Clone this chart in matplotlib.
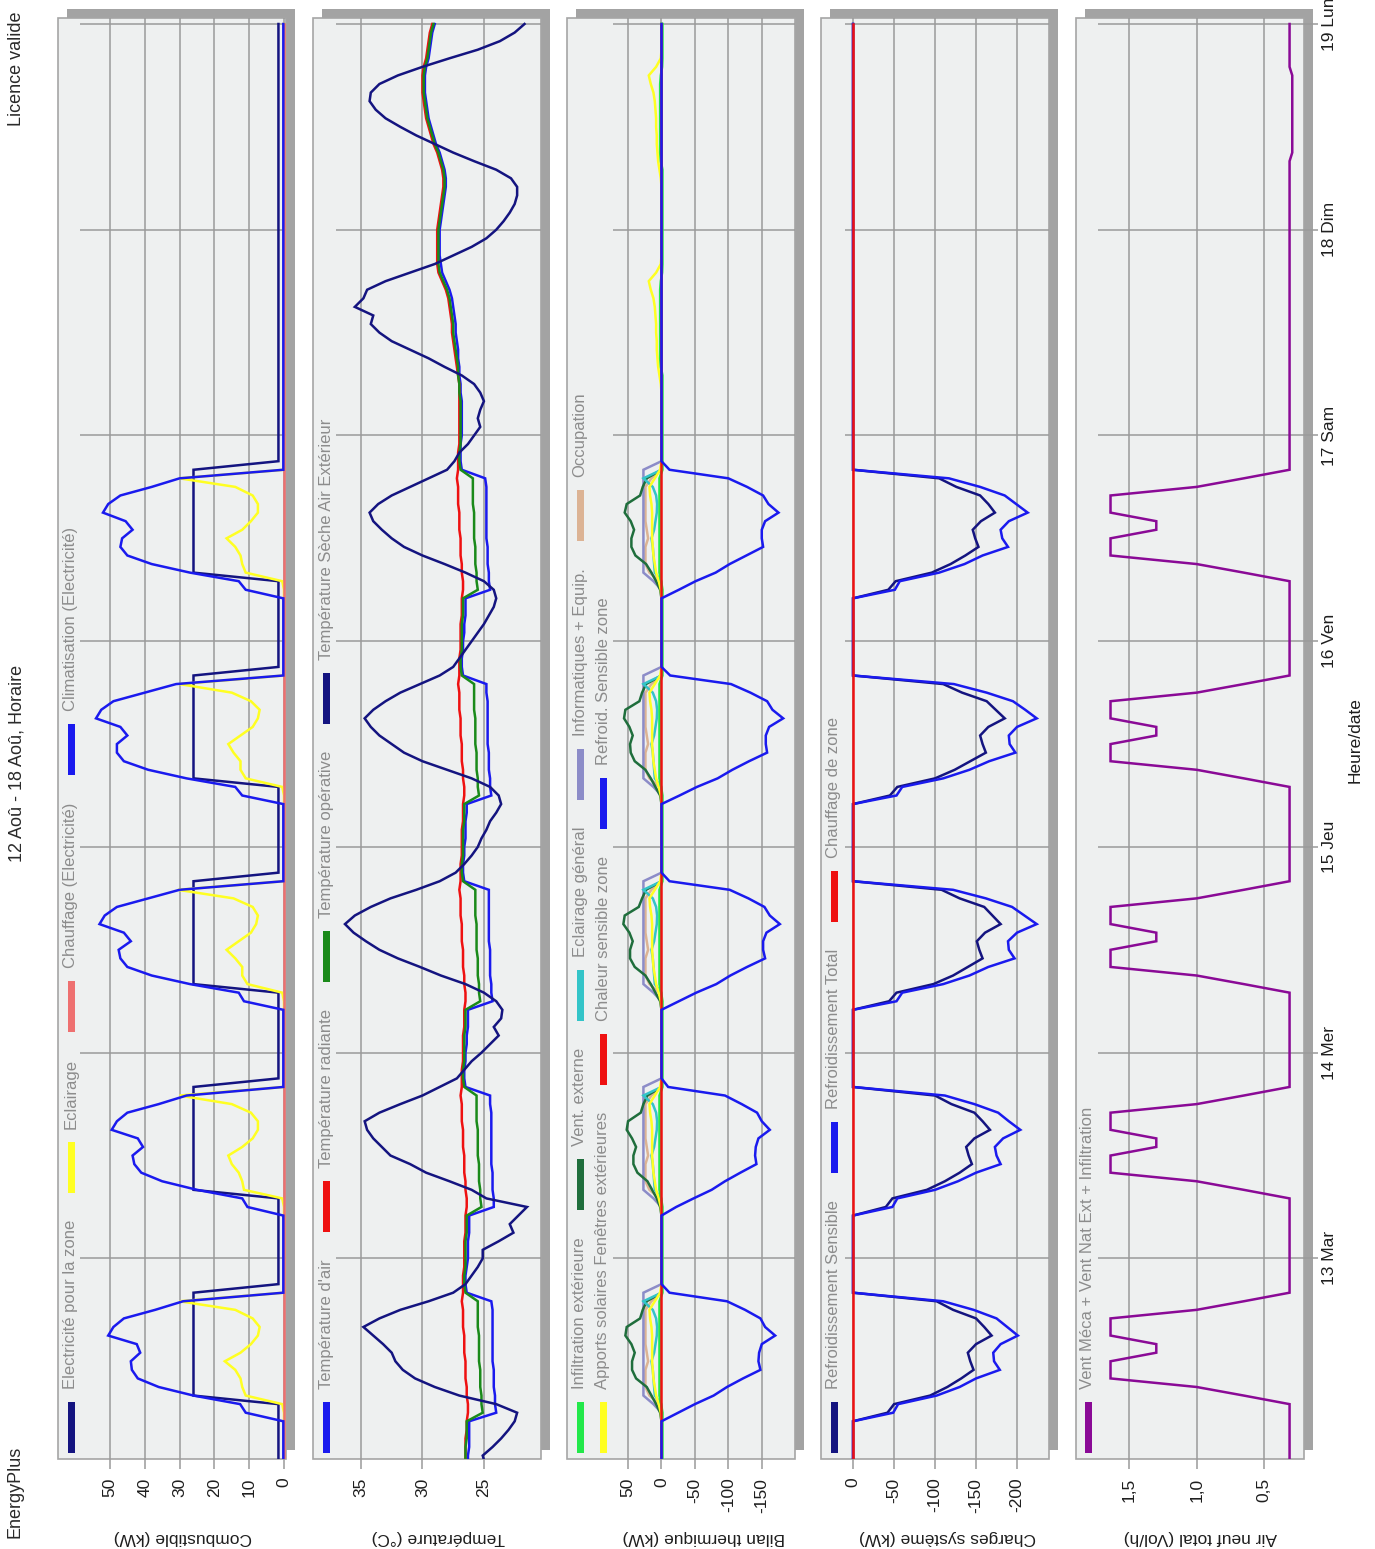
import numpy as np
import matplotlib
matplotlib.use("Agg")
import matplotlib.pyplot as plt
from matplotlib.patches import Rectangle

plt.rcParams['font.family'] = ['Liberation Sans', 'DejaVu Sans']

# ---------------- data (hourly, 12 Aug 00h .. 19 Aug 00h) ----------------
hours = np.arange(169)
day_ticks = [24, 48, 72, 96, 120, 144, 168]
day_labels = ["13 Mar", "14 Mer", "15 Jeu", "16 Ven", "17 Sam", "18 Dim", "19 Lun"]

# Panel 1 : Combustible (kW)
elec_zone = [
 1.6,1.6,1.6,1.6,1.6,1.6,1.6,1.6,26,26,26,26,26,26,26,26,26,26,26,26,26,1.6,1.6,1.6,
 1.6,1.6,1.6,1.6,1.6,1.6,1.6,1.6,26,26,26,26,26,26,26,26,26,26,26,26,26,1.6,1.6,1.6,
 1.6,1.6,1.6,1.6,1.6,1.6,1.6,1.6,26,26,26,26,26,26,26,26,26,26,26,26,26,1.6,1.6,1.6,
 1.6,1.6,1.6,1.6,1.6,1.6,1.6,1.6,26,26,26,26,26,26,26,26,26,26,26,26,26,1.6,1.6,1.6,
 1.6,1.6,1.6,1.6,1.6,1.6,1.6,1.6,26,26,26,26,26,26,26,26,26,26,26,26,26,1.6,1.6,1.6,
 1.6,1.6,1.6,1.6,1.6,1.6,1.6,1.6,1.6,1.6,1.6,1.6,1.6,1.6,1.6,1.6,1.6,1.6,1.6,1.6,1.6,1.6,1.6,1.6,
 1.6,1.6,1.6,1.6,1.6,1.6,1.6,1.6,1.6,1.6,1.6,1.6,1.6,1.6,1.6,1.6,1.6,1.6,1.6,1.6,1.6,1.6,1.6,1.6,
 1.6]
eclairage = [
 0,0,0,0,0,0,0,0.5,11,12,12.5,14,17,12.5,9.5,7.5,7,9,14,30,0,0,0,0,
 0,0,0,0,0,0,0,0.5,11.5,12,13,15,16,12,9,7.5,7.5,9.5,15,30,0,0,0,0,
 0,0,0,0,0,0,0,0.5,10.5,12,12,14,16.5,13,9.5,8,7.5,9,14.5,30.5,0,0,0,0,
 0,0,0,0,0,0,0,0.5,11,12.5,12.5,14.5,16,12.5,9,7.5,7,9.5,15,30,0,0,0,0,
 0,0,0,0,0,0,0,0.5,11,12,12.5,14,16.5,12,9.5,7.5,7.5,9,14,30,0,0,0,0,
 0,0,0,0,0,0,0,0,0,0,0,0,0,0,0,0,0,0,0,0,0,0,0,0,
 0,0,0,0,0,0,0,0,0,0,0,0,0,0,0,0,0,0,0,0,0,0,0,0,
 0]
chauffage_elec = [0.0] * 169
climatisation = [
 0.2,0.2,0.2,0.2,0.2,0.2,11,12.6,26,36,42,43.7,44,41.3,42.3,50.5,49,46,37,29,0.2,0.2,0.2,0.2,
 0.2,0.2,0.2,0.2,0.2,0.2,10.5,12,25,35,41,43,43.5,40.5,42,49.5,48,45,36,28,0.2,0.2,0.2,0.2,
 0.2,0.2,0.2,0.2,0.2,0.2,11.5,13,27,38,45,47,47.5,44,46,53,51.5,48,39,30,0.2,0.2,0.2,0.2,
 0.2,0.2,0.2,0.2,0.2,0.2,12,14,28,39,46,48,48,45,47,54,52.5,49,40,31,0.2,0.2,0.2,0.2,
 0.2,0.2,0.2,0.2,0.2,0.2,11,13,27,38,45,47,46.5,43.5,45.5,52,50.5,47,38,30,0.2,0.2,0.2,0.2,
 0.2,0.2,0.2,0.2,0.2,0.2,0.2,0.2,0.2,0.2,0.2,0.2,0.2,0.2,0.2,0.2,0.2,0.2,0.2,0.2,0.2,0.2,0.2,0.2,
 0.2,0.2,0.2,0.2,0.2,0.2,0.2,0.2,0.2,0.2,0.2,0.2,0.2,0.2,0.2,0.2,0.2,0.2,0.2,0.2,0.2,0.2,0.2,0.2,
 0.2]

# Panel 2 : Température (°C)
t_air = [
 26.3,26.3,26.2,26.2,26.2,26.2,24.0,24.1,24.1,24.2,24.2,24.2,24.3,24.3,24.3,24.3,24.3,24.3,24.3,24.4,26.4,26.5,26.5,26.4,
 26.3,26.3,26.3,26.2,26.2,26.2,24.2,24.2,24.3,24.3,24.3,24.4,24.4,24.4,24.4,24.4,24.4,24.4,24.5,24.5,26.5,26.6,26.6,26.5,
 26.5,26.4,26.4,26.3,26.3,26.3,24.3,24.4,24.4,24.5,24.5,24.5,24.5,24.6,24.6,24.6,24.6,24.6,24.6,24.6,26.6,26.7,26.7,26.6,
 26.6,26.5,26.5,26.5,26.4,26.4,24.4,24.5,24.5,24.6,24.6,24.6,24.7,24.7,24.7,24.7,24.7,24.7,24.8,24.8,26.7,26.8,26.8,26.7,
 26.7,26.6,26.6,26.5,26.5,26.5,24.5,24.6,24.6,24.7,24.7,24.7,24.8,24.8,24.8,24.8,24.8,24.8,24.8,24.9,26.8,26.9,26.9,26.9,
 26.8,26.8,26.8,26.8,26.8,26.9,26.9,27.0,27.0,27.1,27.1,27.2,27.3,27.3,27.4,27.5,27.6,27.8,28.1,28.4,28.5,28.6,28.6,28.6,
 28.6,28.5,28.4,28.3,28.2,28.1,28.1,28.2,28.4,28.6,28.9,29.1,29.3,29.5,29.6,29.7,29.8,29.8,29.8,29.7,29.5,29.4,29.3,29.2,
 29.0]
t_rad = [
 26.5,26.5,26.5,26.5,26.4,26.4,26.3,26.3,26.4,26.4,26.5,26.5,26.5,26.6,26.6,26.6,26.7,26.7,26.7,26.8,26.7,26.7,26.7,26.6,
 26.6,26.6,26.6,26.5,26.5,26.5,26.4,26.4,26.5,26.5,26.6,26.6,26.6,26.7,26.7,26.7,26.8,26.8,26.8,26.9,26.8,26.8,26.8,26.7,
 26.7,26.7,26.7,26.6,26.6,26.6,26.5,26.5,26.6,26.6,26.7,26.7,26.7,26.8,26.8,26.8,26.9,26.9,26.9,27.0,26.9,26.9,26.9,26.8,
 26.8,26.8,26.8,26.7,26.7,26.7,26.6,26.6,26.7,26.7,26.8,26.8,26.8,26.9,26.9,26.9,27.0,27.0,27.0,27.1,27.0,27.0,27.0,26.9,
 26.9,26.9,26.9,26.8,26.8,26.8,26.7,26.7,26.8,26.8,26.9,26.9,26.9,27.0,27.0,27.0,27.1,27.1,27.1,27.2,27.1,27.1,27.1,27.0,
 27.0,27.0,27.0,27.0,27.0,27.0,27.0,27.1,27.2,27.3,27.4,27.5,27.6,27.6,27.7,27.8,27.9,28.1,28.4,28.7,28.8,28.8,28.8,28.8,
 28.8,28.7,28.6,28.5,28.4,28.3,28.3,28.4,28.6,28.8,29.1,29.3,29.5,29.7,29.8,29.9,30.0,30.0,30.0,29.9,29.7,29.6,29.5,29.4,
 29.2]
t_op = [
 26.5,26.5,26.5,26.4,26.4,26.4,25.1,25.2,25.2,25.3,25.3,25.3,25.4,25.4,25.4,25.4,25.5,25.5,25.5,25.5,26.5,26.6,26.6,26.5,
 26.5,26.5,26.5,26.4,26.4,26.4,25.2,25.3,25.3,25.4,25.4,25.4,25.5,25.5,25.5,25.5,25.6,25.6,25.6,25.6,26.6,26.7,26.7,26.6,
 26.6,26.6,26.6,26.5,26.5,26.5,25.3,25.4,25.4,25.5,25.5,25.5,25.6,25.6,25.6,25.6,25.7,25.7,25.7,25.7,26.7,26.8,26.8,26.7,
 26.7,26.7,26.7,26.6,26.6,26.6,25.4,25.5,25.5,25.6,25.6,25.6,25.7,25.7,25.7,25.7,25.8,25.8,25.8,25.8,26.8,26.9,26.9,26.8,
 26.8,26.8,26.8,26.7,26.7,26.7,25.5,25.6,25.6,25.7,25.7,25.7,25.8,25.8,25.8,25.8,25.9,25.9,25.9,25.9,26.9,27.0,27.0,26.9,
 26.9,26.9,26.9,26.9,26.9,27.0,27.0,27.1,27.1,27.2,27.3,27.4,27.5,27.5,27.6,27.7,27.8,28.0,28.3,28.6,28.7,28.7,28.7,28.7,
 28.7,28.6,28.5,28.4,28.3,28.2,28.2,28.3,28.5,28.7,29.0,29.2,29.4,29.6,29.7,29.8,29.9,29.9,29.9,29.8,29.6,29.5,29.4,29.3,
 29.1]
t_ext = [
 24.9,25.1,24.3,23.6,23.0,22.5,22.3,24.0,27.0,29.0,30.6,31.6,32.2,32.5,33.2,34.0,34.8,33.5,31.8,29.5,27.5,26.5,26.0,25.5,
 25.1,25.1,23.8,22.6,22.9,22.2,21.5,24.8,26.0,27.8,29.7,31.0,32.6,33.3,34.0,34.5,34.7,33.5,31.8,30.0,28.6,27.2,26.6,26.0,
 25.2,24.5,23.8,24.2,23.6,23.5,24.0,25.0,26.5,28.5,30.2,32.0,33.5,34.6,35.6,36.3,35.5,34.2,32.6,30.5,28.6,27.3,26.6,26.0,
 25.5,25.2,24.8,24.5,24.0,23.6,23.8,24.5,26.0,28.0,30.0,31.5,32.5,33.5,34.2,34.7,34.0,33.0,31.8,30.2,28.6,27.5,27.0,26.5,
 26.0,25.5,25.0,24.6,24.2,24.0,24.2,25.0,26.5,28.2,30.0,31.5,32.5,33.3,34.0,34.3,33.6,32.5,31.0,29.5,28.0,27.4,27.0,26.3,
 25.8,25.3,25.5,25.3,25.0,25.3,25.8,26.8,28.2,29.5,31.0,32.5,33.5,34.2,34.0,35.5,34.8,34.5,33.0,31.0,29.0,27.5,26.0,24.8,
 24.0,23.4,22.9,22.5,22.3,22.3,22.8,24.0,25.8,27.5,29.0,30.5,31.8,33.0,33.8,34.3,34.2,33.5,32.0,30.0,27.8,25.5,23.7,22.5,
 21.7]

# Panel 3 : Bilan thermique (kW)
infiltration = [
 -1.5,-1.5,-1.5,-1.5,-1.5,-1.5,-1.5,0.5,3,3,3,3,3,3,3,3,3,3,3,3,-1.5,-1.5,-1.5,-1.5,
 -1.5,-1.5,-1.5,-1.5,-1.5,-1.5,-1.5,0.5,3,3,3,3,3,3,3,3,3,3,3,3,-1.5,-1.5,-1.5,-1.5,
 -1.5,-1.5,-1.5,-1.5,-1.5,-1.5,-1.5,0.5,3,3,3,3,3,3,3,3,3,3,3,3,-1.5,-1.5,-1.5,-1.5,
 -1.5,-1.5,-1.5,-1.5,-1.5,-1.5,-1.5,0.5,3,3,3,3,3,3,3,3,3,3,3,3,-1.5,-1.5,-1.5,-1.5,
 -1.5,-1.5,-1.5,-1.5,-1.5,-1.5,-1.5,0.5,3,3,3,3,3,3,3,3,3,3,3,3,-1.5,-1.5,-1.5,-1.5,
 -1.5,-1.5,-1.5,-1.5,-1.5,-1.5,-1.5,-1.5,1,2,2,2,2,2,2,2,2,2,1,-1,-1.5,-1.5,-1.5,-1.5,
 -1.5,-1.5,-1.5,-1.5,-1.5,-1.5,-1.5,-1.5,1,2,2,2,2,2,2,2,2,2,1,-1,-1.5,-1.5,-1.5,-1.5,
 -1.5]
solaires = [
 0,0,0,0,0,0,1,4,8,10,12,13,14,14,14,14,15,17,18,10,2,0,0,0,
 0,0,0,0,0,0,1,4,8,10,12,13,14,14,14,14,15,17,18,10,2,0,0,0,
 0,0,0,0,0,0,1,4,8,10,12,13,14,14,14,14,15,17,18,10,2,0,0,0,
 0,0,0,0,0,0,1,4,8,10,12,13,14,14,14,14,15,17,18,10,2,0,0,0,
 0,0,0,0,0,0,1,4,8,10,12,13,14,14,14,14,15,17,18,10,2,0,0,0,
 0,0,0,0,0,0,1,3,5,6,7,7,8,8,9,10,12,16,19,8,1,0,0,0,
 0,0,0,0,0,0,1,3,5,6,7,7,8,8,9,10,12,16,19,8,1,0,0,0,
 0]
vent_ext = [
 0,0,0,0,0,0,2,8,15,22,38,44,44,40,45,54,52,32,28,22,0,0,0,0,
 0,0,0,0,0,0,2,7,14,21,36,42,42,38,44,52,50,31,27,21,0,0,0,0,
 0,0,0,0,0,0,2,9,16,24,40,47,47,43,48,57,55,34,29,23,0,0,0,0,
 0,0,0,0,0,0,2,9,16,24,40,46,47,43,48,56,54,33,29,23,0,0,0,0,
 0,0,0,0,0,0,2,8,15,23,39,45,45,41,46,55,52,32,28,22,0,0,0,0,
 0,0,0,0,0,0,0,0,0,0,0,0,0,0,0,0,0,0,0,0,0,0,0,0,
 0,0,0,0,0,0,0,0,0,0,0,0,0,0,0,0,0,0,0,0,0,0,0,0,
 0]
chaleur_sens = [0.5] * 169
eclairage_gen = [
 0,0,0,0,0,0,0,0.5,10,11,12,13,15,11,9,7,6.5,8,13,27,0,0,0,0,
 0,0,0,0,0,0,0,0.5,10,11,12,13,15,11,9,7,6.5,8,13,27,0,0,0,0,
 0,0,0,0,0,0,0,0.5,10,11,12,13,15,11,9,7,6.5,8,13,27,0,0,0,0,
 0,0,0,0,0,0,0,0.5,10,11,12,13,15,11,9,7,6.5,8,13,27,0,0,0,0,
 0,0,0,0,0,0,0,0.5,10,11,12,13,15,11,9,7,6.5,8,13,27,0,0,0,0,
 0,0,0,0,0,0,0,0,0,0,0,0,0,0,0,0,0,0,0,0,0,0,0,0,
 0,0,0,0,0,0,0,0,0,0,0,0,0,0,0,0,0,0,0,0,0,0,0,0,
 0]
refroid_sens_zone = [
 0,0,0,0,0,0,-25,-50,-78,-98,-122,-148,-145,-146,-150,-170,-155,-148,-125,-98,-12,0,0,0,
 0,0,0,0,0,0,-22,-48,-75,-95,-118,-142,-140,-141,-145,-162,-150,-143,-120,-95,-10,0,0,0,
 0,0,0,0,0,0,-26,-52,-82,-103,-128,-155,-152,-152,-157,-177,-162,-154,-130,-102,-12,0,0,0,
 0,0,0,0,0,0,-27,-53,-84,-106,-131,-158,-156,-156,-161,-182,-166,-158,-133,-104,-13,0,0,0,
 0,0,0,0,0,0,-26,-51,-81,-102,-127,-152,-150,-150,-155,-175,-160,-152,-128,-100,-12,0,0,0,
 0,0,0,0,0,0,0,0,0,0,0,0,0,0,0,0,0,0,0,0,0,0,0,0,
 0,0,0,0,0,0,0,0,0,0,0,0,0,0,0,0,0,0,0,0,0,0,0,0,
 0]
informatique = [
 0,0,0,0,0,0,0,12,27,27,27,27,27,27,27,27,27,27,27,27,27,0,0,0,
 0,0,0,0,0,0,0,12,27,27,27,27,27,27,27,27,27,27,27,27,27,0,0,0,
 0,0,0,0,0,0,0,12,27,27,27,27,27,27,27,27,27,27,27,27,27,0,0,0,
 0,0,0,0,0,0,0,12,27,27,27,27,27,27,27,27,27,27,27,27,27,0,0,0,
 0,0,0,0,0,0,0,12,27,27,27,27,27,27,27,27,27,27,27,27,27,0,0,0,
 0,0,0,0,0,0,0,0,0,0,0,0,0,0,0,0,0,0,0,0,0,0,0,0,
 0,0,0,0,0,0,0,0,0,0,0,0,0,0,0,0,0,0,0,0,0,0,0,0,
 0]
occupation = [
 0,0,0,0,0,0,0,3,18,24,24,24,20,22,24,24,24,24,24,15,0,0,0,0,
 0,0,0,0,0,0,0,3,18,24,24,24,20,22,24,24,24,24,24,15,0,0,0,0,
 0,0,0,0,0,0,0,3,18,24,24,24,20,22,24,24,24,24,24,15,0,0,0,0,
 0,0,0,0,0,0,0,3,18,24,24,24,20,22,24,24,24,24,24,15,0,0,0,0,
 0,0,0,0,0,0,0,3,18,24,24,24,20,22,24,24,24,24,24,15,0,0,0,0,
 0,0,0,0,0,0,0,0,0,0,0,0,0,0,0,0,0,0,0,0,0,0,0,0,
 0,0,0,0,0,0,0,0,0,0,0,0,0,0,0,0,0,0,0,0,0,0,0,0,
 0]

# Panel 4 : Charges système (kW)
refroid_sensible = [
 0,0,0,0,0,0,-42,-50,-94,-115,-132,-147,-143,-140,-150,-169,-160,-150,-122,-102,0,0,0,0,
 0,0,0,0,0,0,-40,-48,-90,-112,-130,-145,-141,-138,-148,-167,-158,-148,-120,-100,0,0,0,0,
 0,0,0,0,0,0,-44,-53,-98,-122,-140,-158,-154,-151,-161,-180,-170,-160,-130,-108,0,0,0,0,
 0,0,0,0,0,0,-45,-54,-100,-124,-143,-162,-158,-155,-165,-185,-174,-163,-133,-110,0,0,0,0,
 0,0,0,0,0,0,-43,-52,-96,-119,-137,-153,-149,-146,-156,-173,-165,-155,-126,-105,0,0,0,0,
 0,0,0,0,0,0,0,0,0,0,0,0,0,0,0,0,0,0,0,0,0,0,0,0,
 0,0,0,0,0,0,0,0,0,0,0,0,0,0,0,0,0,0,0,0,0,0,0,0,
 0]
refroid_total = [
 0,0,0,0,0,0,-49,-55,-102,-130,-150,-179,-172,-171,-180,-201,-188,-175,-147,-110,0,0,0,0,
 0,0,0,0,0,0,-48,-54,-100,-128,-150,-180,-175,-173,-183,-204,-190,-177,-148,-112,0,0,0,0,
 0,0,0,0,0,0,-53,-60,-110,-142,-165,-197,-190,-189,-200,-224,-209,-194,-162,-122,0,0,0,0,
 0,0,0,0,0,0,-53,-60,-110,-142,-166,-198,-191,-190,-200,-224,-210,-195,-163,-123,0,0,0,0,
 0,0,0,0,0,0,-51,-57,-105,-136,-158,-189,-182,-180,-190,-213,-199,-185,-155,-117,0,0,0,0,
 0,0,0,0,0,0,0,0,0,0,0,0,0,0,0,0,0,0,0,0,0,0,0,0,
 0,0,0,0,0,0,0,0,0,0,0,0,0,0,0,0,0,0,0,0,0,0,0,0,
 0]
chauffage_zone = [0.0] * 169

# Panel 5 : Air neuf total (vol/h)
air_neuf = [
 0.31,0.31,0.31,0.31,0.31,0.31,0.31,0.31,0.65,1.0,1.64,1.64,1.64,1.30,1.30,1.64,1.64,1.64,1.0,0.65,0.31,0.31,0.31,0.31,
 0.31,0.31,0.31,0.31,0.31,0.31,0.31,0.31,0.65,1.0,1.64,1.64,1.64,1.30,1.30,1.64,1.64,1.64,1.0,0.65,0.31,0.31,0.31,0.31,
 0.31,0.31,0.31,0.31,0.31,0.31,0.31,0.31,0.65,1.0,1.64,1.64,1.64,1.30,1.30,1.64,1.64,1.64,1.0,0.65,0.31,0.31,0.31,0.31,
 0.31,0.31,0.31,0.31,0.31,0.31,0.31,0.31,0.65,1.0,1.64,1.64,1.64,1.30,1.30,1.64,1.64,1.64,1.0,0.65,0.31,0.31,0.31,0.31,
 0.31,0.31,0.31,0.31,0.31,0.31,0.31,0.31,0.65,1.0,1.64,1.64,1.64,1.30,1.30,1.64,1.64,1.64,1.0,0.65,0.31,0.31,0.31,0.31,
 0.31,0.31,0.31,0.31,0.31,0.31,0.31,0.31,0.31,0.31,0.31,0.31,0.31,0.31,0.31,0.31,0.31,0.31,0.31,0.31,0.31,0.31,0.31,0.31,
 0.31,0.31,0.31,0.31,0.31,0.31,0.31,0.31,0.31,0.29,0.29,0.29,0.29,0.29,0.29,0.29,0.29,0.29,0.29,0.31,0.31,0.31,0.31,0.31,
 0.31]

# ---------------- styling ----------------
NAVY = '#141480'
BLUE = '#1a1aee'
YELLOW = '#ffff22'
SALMON = '#ee7070'
RED = '#ee1111'
GREEN = '#1a8a1a'
DKGREEN = '#1f6e3c'
LTGREEN = '#22e84a'
CYAN = '#33c4c8'
LAVENDER = '#8c8cc8'
TAN = '#dcb394'
PURPLE = '#8a0a96'
FRAME_BG = '#eef0f0'
FRAME_EDGE = '#a5a5a5'
SHADOW = '#a3a3a3'
GRID = '#9a9a9a'
LEG_TXT = '#8c8c8c'

W, H = 1375, 1549
fig = plt.figure(figsize=(W / 100, H / 100), dpi=100)
fig.patch.set_facecolor('white')


def fx(px):
    return px / W


def fy(py):
    return 1 - py / H


FRAME_TOP, FRAME_BOT = 18, 1459
FRAME_W = 228

panels = [
    dict(fl=58, pl=80, xlim=(58.6, -0.57), ticks=[0, 10, 20, 30, 40, 50],
         labels=['0', '10', '20', '30', '40', '50'], ylabel='Combustible (kW)',
         series=[(elec_zone, NAVY), (eclairage, YELLOW), (chauffage_elec, SALMON), (climatisation, BLUE)],
         legend=[(71, [('Electricité pour la zone', NAVY), ('Eclairage', YELLOW),
                       ('Chauffage (Electricité)', SALMON), ('Climatisation (Electricité)', BLUE)])]),
    dict(fl=312.5, pl=336, xlim=(37.03, 20.4), ticks=[25, 30, 35],
         labels=['25', '30', '35'], ylabel='Température (°C)',
         series=[(t_air, BLUE), (t_rad, RED), (t_op, GREEN), (t_ext, NAVY)],
         legend=[(326, [("Température d'air", BLUE), ('Température radiante', RED),
                        ('Température opérative', GREEN), ('Température Sèche Air Extérieur', NAVY)])]),
    dict(fl=567, pl=613, xlim=(72.5, -199.7), ticks=[50, 0, -50, -100, -150],
         labels=['50', '0', '-50', '-100', '-150'], ylabel='Bilan thermique (kW)',
         series=[(occupation, TAN), (informatique, LAVENDER), (vent_ext, DKGREEN), (eclairage_gen, CYAN),
                 (solaires, YELLOW), (infiltration, LTGREEN), (chaleur_sens, RED), (refroid_sens_zone, BLUE)],
         legend=[(580, [('Infiltration extérieure', LTGREEN), ('Vent. externe', DKGREEN),
                        ('Eclairage général', CYAN), ('Informatiques + Equip.', LAVENDER), ('Occupation', TAN)]),
                 (603, [('Apports solaires Fenêtres extérieures', YELLOW), ('Chaleur sensible zone', RED),
                        ('Refroid. Sensible zone', BLUE)])]),
    dict(fl=821, pl=845, xlim=(9.8, -239), ticks=[0, -50, -100, -150, -200],
         labels=['0', '-50', '-100', '-150', '-200'], ylabel='Charges système (kW)',
         series=[(refroid_sensible, NAVY), (refroid_total, BLUE), (chauffage_zone, RED)],
         legend=[(834, [('Refroidissement Sensible', NAVY), ('Refroidissement Total', BLUE),
                        ('Chauffage de zone', RED)])]),
    dict(fl=1075.5, pl=1098, xlim=(1.733, 0.2065), ticks=[0.5, 1.0, 1.5],
         labels=['0,5', '1,0', '1,5'], ylabel='Air neuf total (Vol/h)',
         series=[(air_neuf, PURPLE)],
         legend=[(1088, [('Vent Méca + Vent Nat Ext + Infiltration', PURPLE)])]),
]

renderer = fig.canvas.get_renderer()

for i, p in enumerate(panels):
    fl = p['fl']
    fr = fl + FRAME_W
    # shadow and frame
    fig.add_artist(Rectangle((fx(fl + 9), fy(FRAME_BOT - 9)), FRAME_W / W, (FRAME_BOT - FRAME_TOP) / H,
                             transform=fig.transFigure, facecolor=SHADOW, edgecolor='none', zorder=-3))
    fig.add_artist(Rectangle((fx(fl), fy(FRAME_BOT)), FRAME_W / W, (FRAME_BOT - FRAME_TOP) / H,
                             transform=fig.transFigure, facecolor=FRAME_BG, edgecolor=FRAME_EDGE,
                             lw=1.2, zorder=-2))
    ax = fig.add_axes([fx(p['pl']), fy(FRAME_BOT), (fr - p['pl']) / W, (FRAME_BOT - FRAME_TOP) / H])
    ax.set_facecolor('none')
    for s in ax.spines.values():
        s.set_visible(False)
    for vals, col in p['series']:
        assert len(vals) == 169
        ax.plot(vals, hours, color=col, lw=1.8, solid_joinstyle='miter')
    ax.set_xlim(*p['xlim'])
    ax.set_ylim(0.6, 168.7)
    ax.set_xticks(p['ticks'])
    ax.set_xticklabels(p['labels'])
    ax.set_yticks(day_ticks)
    ax.set_axisbelow(True)
    ax.grid(True, color=GRID, lw=1.1)
    ax.tick_params(axis='x', direction='out', length=7.5, width=1.1, color=GRID,
                   labelsize=12.5, labelrotation=90, pad=6, labelcolor='#1e1e1e')
    if i == 4:
        ax.yaxis.tick_right()
        ax.set_yticklabels(day_labels)
        ax.tick_params(axis='y', direction='out', length=10, width=1.1, color=GRID,
                       labelsize=12.5, labelrotation=90, pad=3, labelcolor='#1e1e1e')
        for t in ax.get_yticklabels():
            t.set_va('center')
    else:
        ax.tick_params(axis='y', length=0, labelleft=False)
    # axis label (upside-down)
    fig.text(fx((p['pl'] + fr) / 2), fy(1537), p['ylabel'], rotation=180, ha='center', va='center',
             fontsize=12.5, color='#1e1e1e')
    # legend (flowing upward)
    for cx, items in p['legend']:
        ybar = 1453.0
        for label, col in items:
            fig.add_artist(Rectangle((fx(cx - 3.5), fy(ybar)), 7 / W, 51 / H, transform=fig.transFigure,
                                     facecolor=col, edgecolor='none', zorder=5))
            ytxt = ybar - 51 - 13
            t = fig.text(fx(cx), fy(ytxt), label, rotation=90, ha='center', va='bottom',
                         fontsize=12, color=LEG_TXT)
            bb = t.get_window_extent(renderer=renderer)
            ybar = ytxt - bb.height - 27

# general texts
fig.text(fx(15), fy(1492), 'EnergyPlus', rotation=90, ha='center', va='center', fontsize=13, color='#2a2a2a')
fig.text(fx(17), fy(69), 'Licence valide', rotation=90, ha='center', va='center', fontsize=13, color='#2a2a2a')
fig.text(fx(17), fy(763), '12 Aoû - 18 Aoû, Horaire', rotation=90, ha='center', va='center', fontsize=13,
         color='#2a2a2a')
fig.text(fx(1355), fy(740), 'Heure/date', rotation=90, ha='center', va='center', fontsize=12.5, color='#1e1e1e')

fig.savefig('out.png', dpi=100)
